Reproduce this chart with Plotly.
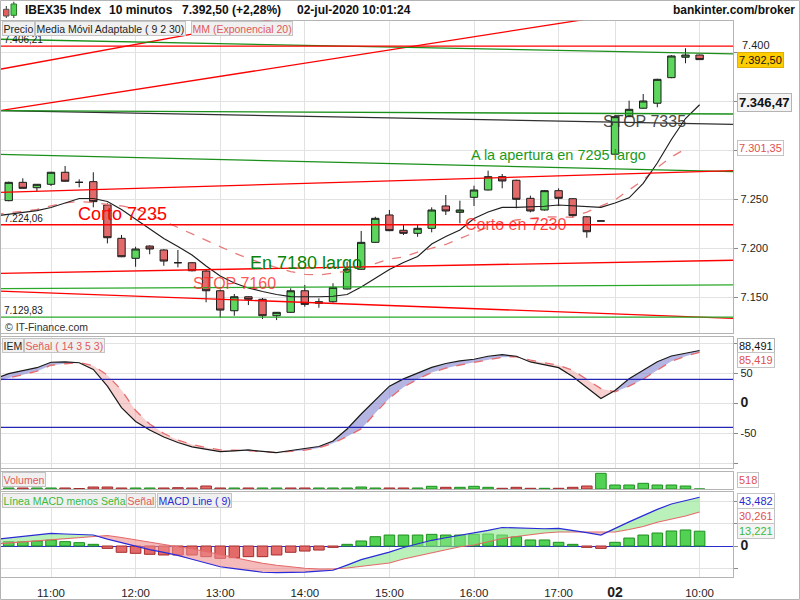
import plotly.graph_objects as go

FONT = "Liberation Sans"

# ---------------- data ----------------
tick_idx = [3, 9, 15, 21, 27, 33, 39, 43, 49]
tick_lbl = ["11:00", "12:00", "13:00", "14:00", "15:00", "16:00", "17:00",
            "<span style='font-size:14px'><b>02</b></span>", "10:00"]

candle_idx = list(range(50))
opens = [7248.6, 7267.3, 7261.8, 7265.3, 7277.6, 7267.3, 7268.0, 7244.2, 7210.2, 7189.8,
         7202.3, 7198.3, 7185.3, 7185.3, 7176.8, 7156.7, 7136.3, 7150.6, 7148.0, 7131.2,
         7134.7, 7156.7, 7143.9, 7145.5, 7158.5, 7178.6, 7206.1, 7234.0, 7218.4, 7215.3,
         7220.4, 7243.2, 7236.7, 7252.0, 7259.5, 7273.1, 7269.4, 7251.0, 7239.1, 7258.8,
         7250.6, 7232.2, 7227.9, 7296.0, 7334.3, 7342.9, 7348.0, 7374.1, 7394.9, 7397.2]
highs = [7268.0, 7271.4, 7265.5, 7278.0, 7284.0, 7270.4, 7277.6, 7246.0, 7213.6, 7201.6,
         7203.0, 7199.0, 7198.3, 7186.0, 7178.0, 7158.0, 7153.4, 7151.0, 7149.3, 7135.0,
         7159.2, 7162.6, 7149.0, 7164.3, 7186.3, 7217.7, 7232.2, 7239.1, 7224.8, 7223.7,
         7241.8, 7254.4, 7248.6, 7263.9, 7279.2, 7275.8, 7270.0, 7253.7, 7259.5, 7261.2,
         7251.0, 7233.0, 7227.9, 7335.0, 7350.6, 7357.4, 7373.0, 7397.0, 7404.1, 7397.5]
lows = [7248.0, 7261.0, 7257.8, 7263.6, 7268.0, 7262.2, 7241.8, 7205.0, 7191.0, 7181.2,
        7193.9, 7182.2, 7180.6, 7176.5, 7144.9, 7129.2, 7131.2, 7142.1, 7127.9, 7126.8,
        7134.0, 7140.4, 7139.4, 7144.5, 7158.0, 7178.0, 7205.5, 7217.5, 7213.6, 7211.8,
        7216.3, 7234.0, 7225.5, 7243.2, 7259.0, 7261.2, 7240.8, 7236.7, 7238.5, 7243.2,
        7231.6, 7210.8, 7227.9, 7295.5, 7334.0, 7342.5, 7343.9, 7373.5, 7388.8, 7392.5]
closes = [7267.3, 7261.2, 7265.3, 7277.6, 7268.4, 7267.3, 7247.6, 7210.8, 7191.4, 7199.3,
          7199.3, 7187.0, 7185.3, 7177.1, 7156.7, 7137.0, 7150.6, 7148.0, 7131.2, 7134.7,
          7156.7, 7142.8, 7145.5, 7160.2, 7178.6, 7206.1, 7230.6, 7218.0, 7215.3, 7220.4,
          7239.1, 7238.1, 7239.1, 7259.5, 7273.1, 7268.7, 7250.0, 7238.1, 7258.8, 7251.0,
          7233.3, 7216.9, 7227.9, 7334.3, 7341.8, 7350.3, 7372.4, 7396.2, 7397.2, 7392.5]

# Media Movil Adaptable (9 2 30) and MM Exponencial 20
ma_idx = list(range(-1, 50))
ama = [7233.0, 7235.0, 7236.7, 7238.4, 7241.6, 7246.2, 7250.8, 7250.8, 7247.8, 7239.6,
       7229.9, 7220.2, 7210.0, 7201.8, 7193.2, 7181.9, 7171.7, 7164.6, 7159.5, 7155.9,
       7152.9, 7150.8, 7150.6, 7150.6, 7151.1, 7152.9, 7160.5, 7169.7, 7178.4, 7185.5,
       7191.6, 7204.4, 7212.0, 7218.7, 7230.4, 7237.0, 7241.8, 7241.8, 7242.0, 7242.9,
       7244.2, 7243.4, 7242.3, 7241.8, 7246.2, 7251.5, 7266.3, 7287.0, 7311.0, 7332.4, 7346.47]
ema_idx = list(range(-1, 49))
ema = [7234.5, 7236.2, 7238.1, 7239.6, 7243.2, 7246.4, 7247.8, 7246.7, 7244.7, 7243.2,
       7240.6, 7234.5, 7227.9, 7221.2, 7214.6, 7208.0, 7201.8, 7195.2, 7189.6, 7184.5,
       7180.4, 7176.3, 7173.5, 7172.8, 7174.8, 7176.8, 7180.9, 7184.5, 7189.1, 7191.1,
       7196.2, 7199.8, 7203.9, 7210.0, 7216.1, 7221.7, 7226.3, 7228.9, 7230.4, 7231.9,
       7232.1, 7231.7, 7237.0, 7243.0, 7249.3, 7259.5, 7269.7, 7282.4, 7293.2, 7301.35]

# user trend lines: price at the left edge / right edge of the chart
trend_left = [7382.65, 7340.4, 7413.3, 7406.21, 7340.4, 7340.4, 7295.9, 7257.1, 7224.06, 7174.5, 7158.8, 7156.4, 7129.83]
trend_right = [7519.5, 7457.1, 7398.3, 7406.21, 7326.5, 7337.0, 7278.2, 7279.2, 7224.06, 7187.8, 7162.6, 7128.6, 7129.83]
trend_color = ["#ff0000", "#ff0000", "#1a8f1a", "#ff0000", "#303030", "#1a8f1a", "#1a8f1a",
               "#ff0000", "#ff0000", "#ff0000", "#2aa82a", "#ff0000", "#2aa82a"]
level_labels = [7406.21, 7224.06, 7129.83]
level_texts = ["7.406,21", "7.224,06", "7.129,83"]

# chart notes
note_text = ["Corto 7235", "STOP 7160", "En 7180 largo", "Corto en 7230",
             "A la apertura en 7295 largo", "STOP 7335"]
note_x = [8.04, 16.01, 21.05, 35.98, 38.96, 45.06]
note_y = [7234.5, 7163.6, 7185.0, 7223.8, 7295.2, 7329.4]
note_size = [18, 16, 18, 16, 14.5, 16]
note_color = ["#ff0000", "rgba(255,40,40,0.8)", "#0a840a", "rgba(255,30,30,0.85)", "#229a22", "rgba(50,50,50,0.9)"]

# IEM (14 3 5 3) and signal
osc_idx = list(range(-1, 50))
iem = [41.3, 49.7, 54.7, 59.7, 68.8, 69.3, 68.0, 56.7, 28.8, -7.0, -30.3, -44.5, -56.2,
       -65.3, -72.8, -77.3, -80.7, -79.5, -77.8, -80.3, -82.3, -78.7, -75.7, -72.0, -62.8,
       -42.8, -17.8, 5.5, 28.8, 41.0, 51.0, 60.2, 66.7, 71.0, 73.8, 78.8, 81.5, 78.8, 69.3,
       64.7, 59.8, 45.0, 26.2, 8.3, 21.7, 41.3, 55.5, 69.7, 79.3, 84.5, 88.491]
iem_sig = [37.2, 42.2, 48.0, 53.8, 63.8, 66.3, 68.3, 63.0, 47.2, 22.2, -12.0, -34.5, -50.3,
           -61.2, -68.7, -73.7, -77.8, -78.3, -78.8, -80.3, -82.3, -80.3, -78.2, -74.5, -66.7,
           -55.2, -42.7, -16.2, 8.8, 27.2, 40.5, 51.7, 58.8, 64.2, 68.8, 73.0, 77.2, 78.0, 72.2,
           68.0, 63.8, 55.5, 40.5, 24.7, 19.3, 28.8, 40.5, 55.5, 70.5, 78.8, 85.419]
iem_levels = [40, -40]

# volume
volume = [58, 58, 58, 58, 58, 29, 115, 115, 58, 58, 58, 58, 75, 58, 172, 58, 58, 58, 58, 58,
          58, 58, 58, 58, 58, 115, 58, 58, 58, 58, 155, 98, 98, 155, 98, 40, 98, 40, 40, 40,
          98, 172, 903, 230, 230, 328, 230, 230, 172, 0]
volume_up = [1, 0, 1, 1, 0, 0, 0, 0, 0, 1, 1, 0, 0, 0, 0, 0, 1, 0, 1, 1, 0, 0, 1, 1, 1,
             1, 1, 0, 0, 1, 1, 0, 1, 1, 1, 0, 0, 0, 1, 0, 0, 0, 1, 1, 1, 1, 1, 1, 1, 1]

# MACD
macd = [5.8, 7.1, 8.5, 10.3, 11.3, 10.7, 10.3, 9.8, 6.1, 2.9, -0.4, -3.2, -5.7, -8.4, -11.8,
        -15.2, -18.5, -20.1, -21.8, -23.4, -23.8, -23.6, -23.2, -22.4, -21.6, -17.0, -12.1,
        -8.8, -5.4, -1.3, 1.9, 5.1, 7.4, 9.4, 11.4, 14.0, 16.5, 16.1, 15.4, 15.4, 15.7, 14.0,
        12.0, 9.8, 15.9, 21.5, 27.1, 32.7, 37.5, 40.4, 43.482]
macd_sig = [1.8, 2.7, 3.6, 4.5, 5.4, 6.3, 7.1, 8.5, 9.4, 7.6, 5.4, 3.6, 1.3, -0.6, -2.5, -4.9,
            -7.6, -10.3, -12.9, -15.4, -17.2, -18.8, -19.8, -20.5, -20.5, -19.6, -18.3, -17.0,
            -15.2, -11.6, -8.8, -6.0, -3.1, -0.7, 0.9, 3.6, 6.7, 8.5, 10.2, 11.6, 12.5, 12.5,
            12.2, 12.1, 12.5, 14.7, 17.4, 21.2, 23.7, 26.8, 30.261]
macd_hist = [3.9, 3.9, 4.5, 5.4, 3.9, 3.0, 1.5, -2.1, -5.6, -6.5, -7.4, -8.0, -8.0, -8.0, -9.5,
             -11.0, -10.4, -9.5, -9.5, -8.0, -5.6, -4.5, -3.6, -1.2, 1.5, 4.5, 8.3, 9.8, 9.8,
             9.8, 10.4, 9.8, 9.8, 10.4, 10.7, 9.8, 8.3, 5.4, 5.4, 3.3, 1.5, -1.2, -2.1, 3.3, 7.1,
             9.8, 11.6, 13.4, 14.3, 13.221]

# ---------------- geometry ----------------
W, H = 800, 600
X_L, X_R = -0.617, 51.39
XD = 733.3 / W


def py(px):
    return 1 - px / H


fig = go.Figure()

# ---- main price panel ----
fig.add_trace(go.Candlestick(
    x=candle_idx, open=opens, high=highs, low=lows, close=closes,
    increasing=dict(fillcolor="#5cd65c", line=dict(color="#1c1c1c", width=1)),
    decreasing=dict(fillcolor="#e26a6a", line=dict(color="#1c1c1c", width=1)),
    whiskerwidth=0, hoverinfo="skip", showlegend=False, xaxis="x", yaxis="y"))
fig.add_trace(go.Scatter(x=ema_idx, y=ema, mode="lines", hoverinfo="skip",
                         line=dict(color="#e87a7a", width=1.3, dash="dash"), xaxis="x", yaxis="y"))
fig.add_trace(go.Scatter(x=ma_idx, y=ama, mode="lines", hoverinfo="skip",
                         line=dict(color="#202020", width=1.2), xaxis="x", yaxis="y"))

for y0, y1, c in zip(trend_left, trend_right, trend_color):
    fig.add_shape(type="line", xref="x", yref="y", x0=X_L, x1=X_R, y0=y0, y1=y1,
                  line=dict(color=c, width=1.3))


# ---- band helper ----
def crossings(xs, a, b):
    X, A, B = [], [], []
    for k in range(len(xs)):
        if k:
            d0, d1 = a[k - 1] - b[k - 1], a[k] - b[k]
            if d0 * d1 < 0:
                t = d0 / (d0 - d1)
                xc = xs[k - 1] + t * (xs[k] - xs[k - 1])
                v = a[k - 1] + t * (a[k] - a[k - 1])
                X.append(xc); A.append(v); B.append(v)
        X.append(xs[k]); A.append(a[k]); B.append(b[k])
    Hh = [max(p, q) for p, q in zip(A, B)]
    return X, A, B, Hh


def add_band(xs, a, b, col_up, col_dn, xa, ya):
    X, A, B, Hh = crossings(xs, a, b)
    common = dict(mode="lines", line=dict(width=0), hoverinfo="skip", xaxis=xa, yaxis=ya, showlegend=False)
    fig.add_trace(go.Scatter(x=X, y=B, **common))
    fig.add_trace(go.Scatter(x=X, y=Hh, fill="tonexty", fillcolor=col_up, **common))
    fig.add_trace(go.Scatter(x=X, y=A, **common))
    fig.add_trace(go.Scatter(x=X, y=Hh, fill="tonexty", fillcolor=col_dn, **common))


# ---- IEM panel ----
add_band(osc_idx, iem, iem_sig, "rgba(120,120,205,0.55)", "rgba(240,150,150,0.45)", "x2", "y2")
fig.add_trace(go.Scatter(x=osc_idx, y=iem_sig, mode="lines", hoverinfo="skip",
                         line=dict(color="#e86a6a", width=1.3, dash="dash"), xaxis="x2", yaxis="y2"))
fig.add_trace(go.Scatter(x=osc_idx, y=iem, mode="lines", hoverinfo="skip",
                         line=dict(color="#1a1a1a", width=1.2), xaxis="x2", yaxis="y2"))
for lv in iem_levels:
    fig.add_shape(type="line", xref="x2", yref="y2", x0=X_L, x1=X_R, y0=lv, y1=lv,
                  line=dict(color="#2626b4", width=1.3))

# ---- volume panel ----
fig.add_trace(go.Bar(x=candle_idx, y=volume, width=0.75, hoverinfo="skip",
                     marker=dict(color=["#52d252" if u else "#e46a6a" for u in volume_up],
                                 line=dict(color=["#1f8f1f" if u else "#a52a2a" for u in volume_up], width=1)),
                     xaxis="x3", yaxis="y3"))

# ---- MACD panel ----
fig.add_trace(go.Bar(x=candle_idx, y=macd_hist, width=0.75, hoverinfo="skip",
                     marker=dict(color=["#52d252" if v >= 0 else "#e46a6a" for v in macd_hist],
                                 line=dict(color=["#1f8f1f" if v >= 0 else "#a52a2a" for v in macd_hist], width=1)),
                     xaxis="x4", yaxis="y4"))
add_band(osc_idx, macd, macd_sig, "rgba(140,230,140,0.6)", "rgba(238,140,140,0.6)", "x4", "y4")
fig.add_trace(go.Scatter(x=osc_idx, y=macd_sig, mode="lines", hoverinfo="skip",
                         line=dict(color="#e46a6a", width=1.1), xaxis="x4", yaxis="y4"))
fig.add_trace(go.Scatter(x=osc_idx, y=macd, mode="lines", hoverinfo="skip",
                         line=dict(color="#2a2ad8", width=1.2), xaxis="x4", yaxis="y4"))

# ---------------- axes ----------------
xcommon = dict(range=[X_L, X_R], tickvals=tick_idx, ticktext=tick_lbl, showgrid=True,
               gridcolor="#e2e2e2", gridwidth=1, showline=True, mirror=True, linecolor="#b4b4b4",
               linewidth=1, zeroline=False, ticks="", fixedrange=True, domain=[0, XD])
tickfont = dict(family=FONT, size=11, color="#1e1e1e")
ycommon = dict(side="right", showline=True, mirror=True, linecolor="#b4b4b4", linewidth=1,
               gridcolor="#e2e2e2", ticks="outside", ticklen=4, tickcolor="#8a8a8a",
               tickfont=tickfont, fixedrange=True)

# 7.300 and 7.350 are hidden behind the value boxes in the reference;
# 7.400 peeks out just above the yellow close box (drawn as a note below)
main_ticks = [7150, 7200, 7250, 7300, 7350, 7400]
main_ticktext = ["7.150", "7.200", "7.250", "", "", ""]

fig.update_layout(
    width=W, height=H, margin=dict(l=0, r=0, t=0, b=0),
    paper_bgcolor="white", plot_bgcolor="white", showlegend=False,
    boxgap=0.25, bargap=0.25, hovermode=False,
    xaxis=dict(**xcommon, anchor="y", showticklabels=False, rangeslider=dict(visible=False)),
    xaxis2=dict(**xcommon, anchor="y2", showticklabels=False, matches="x"),
    xaxis3=dict(**xcommon, anchor="y3", showticklabels=False, matches="x"),
    xaxis4=dict(**xcommon, anchor="y4", showticklabels=True, matches="x",
                tickfont=dict(family=FONT, size=11.5, color="#1e1e1e"), ticklabelstandoff=5),
    yaxis=dict(**ycommon, anchor="x", domain=[py(333.3), py(20.7)], range=[7113.3, 7432.2],
               tickvals=main_ticks, ticktext=main_ticktext, showgrid=True, zeroline=False),
    yaxis2=dict(**ycommon, anchor="x2", domain=[py(467.7), py(337.3)], range=[-107.5, 110.5],
                tickvals=[-100, -50, 0, 50, 100],
                ticktext=["", "-50", "<span style='font-size:14px'><b>0</b></span>", "50", ""],
                showgrid=True, zeroline=False),
    yaxis3=dict(side="right", anchor="x3", domain=[py(489), py(471.7)], range=[0, 995],
                showline=True, mirror=True, linecolor="#b4b4b4", showgrid=False, zeroline=False,
                showticklabels=False, ticks="", fixedrange=True),
    yaxis4=dict(**ycommon, anchor="x4", domain=[py(577.3), py(492.3)], range=[-27.9, 47.9],
                tickvals=[-20, 0, 20, 40],
                ticktext=["", "<span style='font-size:14px'><b>0</b></span>", "", ""],
                showgrid=True, zeroline=True, zerolinecolor="#2a2ad0", zerolinewidth=1.3),
)

ann = []

# partially visible 7.400 axis label
ann.append(dict(x=739.5 / W, xref="paper", y=py(45.5), yref="paper", text="7.400", showarrow=False,
                xanchor="left", yanchor="middle", font=tickfont))

# level labels at left
for v, t in zip(level_labels, level_texts):
    ann.append(dict(x=1.5 / W, xref="paper", y=v, yref="y", text=t, showarrow=False,
                    xanchor="left", yanchor="bottom", yshift=-1,
                    font=dict(family=FONT, size=10, color="#202020")))

# notes
for t, x, y, s, c in zip(note_text, note_x, note_y, note_size, note_color):
    ann.append(dict(x=x, xref="x", y=y, yref="y", text=t, showarrow=False,
                    font=dict(family=FONT, size=s, color=c)))

# copyright
ann.append(dict(x=3 / W, xref="paper", y=py(327.5), yref="paper", text="© IT-Finance.com",
                showarrow=False, xanchor="left", yanchor="middle",
                font=dict(family=FONT, size=10.5, color="#303030")))


def tab(x_px, y_px, text, color):
    return dict(x=x_px / W, xref="paper", y=py(y_px), yref="paper", text=text, showarrow=False,
                xanchor="left", yanchor="top", bgcolor="#f0f0f0", bordercolor="#c4c4c4",
                borderwidth=1, borderpad=0.5, font=dict(family=FONT, size=10.5, color=color))


ann += [
    tab(1.5, 21, "Precio", "#1e1e1e"),
    tab(35, 21, "Media Móvil Adaptable ( 9 2 30)", "#1e1e1e"),
    tab(190.5, 21, "MM (Exponencial 20)", "#e05a5a"),
    tab(1.5, 338, "IEM", "#1e1e1e"),
    tab(23.5, 338, "Señal ( 14 3 5 3)", "#e05a5a"),
    tab(1.5, 472, "Volumen", "#e05a5a"),
    tab(1.5, 493, "Línea MACD menos Señal", "#3cba3c"),
    tab(125.5, 493, "Señal", "#e05a5a"),
    tab(156.5, 493, "MACD Line ( 9)", "#2a2ad0"),
]

# header
hdr_font = dict(family=FONT, size=12, color="#101010")
for x_px, t in [(23.3, "<b>IBEX35 Index</b>"), (107.3, "<b>10 minutos</b>"),
                (180, "<b>7.392,50 (+2,28%)</b>"), (295, "<b>02-jul-2020 10:01:24</b>")]:
    ann.append(dict(x=x_px / W, xref="paper", y=py(10.5), yref="paper", text=t, showarrow=False,
                    xanchor="left", yanchor="middle", font=hdr_font))
ann.append(dict(x=797 / W, xref="paper", y=py(10.5), yref="paper", text="<b>bankinter.com/broker</b>",
                showarrow=False, xanchor="right", yanchor="middle", font=hdr_font))


# right side value boxes
def vbox(yref, val, text, color, bg, border, size=11, yshift=0, bold=False):
    t = "<b>%s</b>" % text if bold else text
    return dict(x=736.5 / W, xref="paper", y=val, yref=yref, text=t, showarrow=False,
                xanchor="left", yanchor="middle", yshift=yshift, bgcolor=bg, bordercolor=border,
                borderwidth=1, borderpad=1, font=dict(family=FONT, size=size, color=color))


ann += [
    vbox("y", closes[-1], "7.392,50", "#111111", "#ffcc00", "#e0b000", yshift=0),
    vbox("y", ama[-1], "7.346,47", "#111111", "#f4f4f4", "#b4b4b4", size=13, yshift=2, bold=True),
    vbox("y", ema[-1], "7.301,35", "#e05050", "#ffffff", "#c4c4c4", yshift=1),
    vbox("y2", iem[-1], "88,491", "#111111", "#ffffff", "#b4b4b4", yshift=4),
    vbox("y2", iem_sig[-1], "85,419", "#e05050", "#ffffff", "#c4c4c4", yshift=-8),
    dict(x=736.5 / W, xref="paper", y=py(480), yref="paper", text="518", showarrow=False,
         xanchor="left", yanchor="middle", bgcolor="#ffffff", bordercolor="#c4c4c4",
         borderwidth=1, borderpad=1, font=dict(family=FONT, size=11, color="#e05050")),
    vbox("y4", macd[-1], "43,482", "#2a2ad0", "#ffffff", "#c4c4c4", yshift=-3.5),
    vbox("y4", macd_sig[-1], "30,261", "#e05050", "#ffffff", "#c4c4c4", yshift=-3.5),
    vbox("y4", macd_hist[-1], "13,221", "#3cba3c", "#f4f4f4", "#c4c4c4", yshift=0),
]
fig.update_layout(annotations=ann)

# decoration: candle icon and outer frame
shapes = list(fig.layout.shapes)


def pxrect(x0, y0, x1, y1, fill, line):
    return dict(type="rect", xref="paper", yref="paper", x0=x0 / W, x1=x1 / W, y0=py(y1), y1=py(y0),
                fillcolor=fill, line=dict(color=line, width=1))


def pxline(x0, y0, x1, y1, color):
    return dict(type="line", xref="paper", yref="paper", x0=x0 / W, x1=x1 / W, y0=py(y0), y1=py(y1),
                line=dict(color=color, width=1))


shapes += [
    pxline(6.3, 6, 6.3, 18, "#333333"), pxrect(3.5, 9.3, 9, 16, "#e06060", "#555555"),
    pxline(13.8, 1.7, 13.8, 18, "#333333"), pxrect(11, 4, 16.5, 15.3, "#52d252", "#2a7a2a"),
    pxrect(0.5, 0.5, 799.5, 599.5, "rgba(0,0,0,0)", "#b4b4b4"),
]
fig.update_layout(shapes=shapes)

fig.write_html("out.html")
